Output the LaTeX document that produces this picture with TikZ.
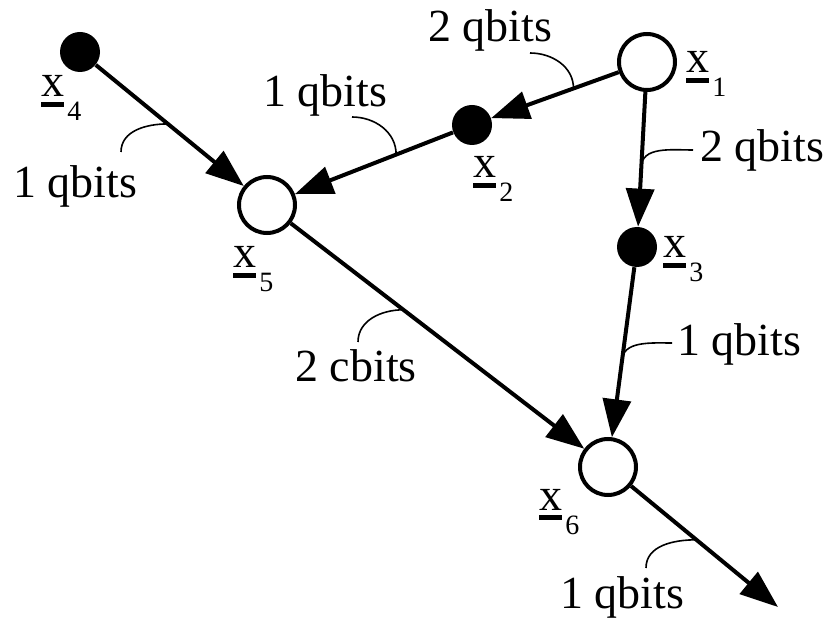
\documentclass[tikz,border=0pt]{standalone}
\usepackage{fontspec}
\setmainfont{Liberation Serif}
\usetikzlibrary{arrows.meta,calc}
\newcommand{\vx}[1]{\setbox0\hbox{x}\rlap{\rule[-5pt]{\wd0}{2.5pt}}x\hspace{1.5pt}\raisebox{-12pt}{\fontsize{14}{14}\selectfont #1}}

\begin{document}
\begin{tikzpicture}[x=0.5pt,y=-0.5pt,
		hollow/.style={circle,draw,line width=2pt,minimum size=28pt,inner sep=0pt},
		blob/.style={circle,fill,minimum size=20pt,inner sep=0pt},
		arr/.style={line width=2pt,-{Triangle[length=19pt,width=14pt]}},
		hook/.style={line width=0.8pt},
		lbl/.style={anchor=base west,inner sep=0pt,font=\fontsize{23}{27}\selectfont}]
		\useasboundingbox (0,0) rectangle (831,620);
		\node[hollow]	(x1)	at (647,62)		{};
		\node[blob]		(x2)	at (472,125)	{};
		\node[blob]		(x3)	at (637,247)	{};
		\node[blob]		(x4)	at (80,52)		{};
		\node[hollow]	(x5)	at (267,205)	{};
		\node[hollow]	(x6)	at (608,467)	{};
		\coordinate		(out)	at (778,607);
		
		\node[lbl]	(lx1)	at (686,73)		{\vx{1}};
		\node[lbl]	(lx2)	at (473,178)	{\vx{2}};
		\node[lbl]	(lx3)	at (663,258)	{\vx{3}};
		\node[lbl]	(lx4)	at (41,97)		{\vx{4}};
		\node[lbl]	(lx5)	at (233,268)	{\vx{5}};
		\node[lbl]	(lx6)	at (539,510)	{\vx{6}};
		
		\draw[arr] (x1) -- (x2);
		\draw[arr] (x2) -- (x5);
		\draw[arr] (x4) -- (x5);
		\draw[arr] (x1) -- (x3);
		\draw[arr] (x3) -- (x6);
		\draw[arr] (x5) -- (x6);
		\draw[arr] (x6) -- (out);
		
		\node[lbl]	(q12)	at (428,42)		{2 qbits};
		\node[lbl]	(q25)	at (263,107)	{1 qbits};
		\node[lbl]	(q45)	at (13,198)		{1 qbits};
		\node[lbl]	(q13)	at (700,162)	{2 qbits};
		\node[lbl]	(c56)	at (295,382)	{2 cbits};
		\node[lbl]	(q36)	at (677,356)	{1 qbits};
		\node[lbl]	(q6)	at (560,608)	{1 qbits};
		
		\coordinate (e12) at (530,53);
		\coordinate (e25) at (352,117);
		\coordinate (e45) at (121,152);
		\coordinate (e13) at (693,150);
		\coordinate (e56) at (358,342);
		\coordinate (e36) at (672,343);
		\coordinate (e6) at (646,568);
		\draw[hook] (e12) to[out=0,in=90] ($(x1)!0.42!(x2)$);
		\draw[hook] (e25) to[out=0,in=90] ($(x2)!0.37!(x5)$);
		\draw[hook] ($(x4)!0.47!(x5)$) to[out=180,in=90] (e45);
		\draw[hook] ($(x1)!0.57!(x3)$) to[out=90,in=180] (e13);
		\draw[hook] ($(x5)!0.4!(x6)$) to[out=180,in=90] (e56);
		\draw[hook] ($(x3)!0.52!(x6)$) to[out=90,in=180] (e36);
		\draw[hook] ($(x6)!0.52!(out)$) to[out=180,in=90] (e6);
	\end{tikzpicture}
\end{document}
